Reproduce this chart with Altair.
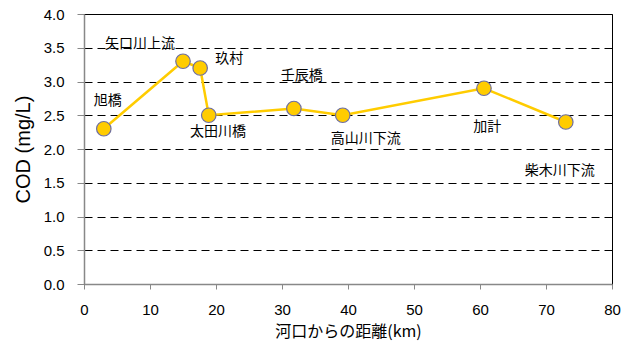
import altair as alt
import pandas as pd

# data
sites = ["旭橋", "矢口川上流", "玖村", "太田川橋", "壬辰橋", "高山川下流", "加計", "柴木川下流"]
distance_km = [3.0, 15.0, 17.6, 18.9, 31.8, 39.2, 60.6, 73.0]
cod = [2.3, 3.3, 3.2, 2.5, 2.6, 2.5, 2.9, 2.4]
# label anchor positions (data coordinates)
label_x = [3.6, 8.5, 22.0, 20.3, 33.0, 42.7, 61.1, 72.1]
label_y = [2.71, 3.56, 3.33, 2.25, 3.08, 2.15, 2.33, 1.67]
x_ticks = [0, 10, 20, 30, 40, 50, 60, 70, 80]
y_ticks = [0.0, 0.5, 1.0, 1.5, 2.0, 2.5, 3.0, 3.5, 4.0]

df = pd.DataFrame({"site": sites, "km": distance_km, "cod": cod})
lab = pd.DataFrame({"site": sites, "lx": label_x, "ly": label_y})

xs = alt.Scale(domain=[0, 80], nice=False, zero=False)
ys = alt.Scale(domain=[0, 4], nice=False, zero=False)

xax = alt.Axis(values=x_ticks, title="河口からの距離(km)", grid=False,
               labelFont="Liberation Sans", labelFontSize=15, labelColor="#000",
               titleFont="Noto Sans CJK JP", titleFontSize=16, titleFontWeight="normal",
               titleColor="#000", titlePadding=6, labelPadding=13, labelOverlap=False,
               labelFlush=False,
               domainColor="#888", domainWidth=1.5, tickColor="#888", tickSize=5)
yax = alt.Axis(values=y_ticks, format=".1f", title="COD (mg/L)",
               grid=True, gridColor="#000", gridDash=[8, 5], gridWidth=1,
               labelFont="Liberation Sans", labelFontSize=15, labelColor="#000",
               titleFont="Liberation Sans", titleFontSize=20, titleFontWeight="normal",
               titleColor="#000", titlePadding=10, labelPadding=13, labelOverlap=False,
               labelFlush=False,
               domainColor="#888", domainWidth=1.5, tickColor="#888", tickSize=7)

X = lambda f: alt.X(f, scale=xs, axis=xax)
Y = lambda f: alt.Y(f, scale=ys, axis=yax)

base = alt.Chart(df)
line = base.mark_line(color="#FFCC00", strokeWidth=2.5).encode(
    x=X("km:Q"), y=Y("cod:Q"),
)
pts = base.mark_point(filled=True, fill="#FFCC00", stroke="#6E6EA0", strokeWidth=1.2,
                      size=210, opacity=1).encode(
    x=X("km:Q"), y=Y("cod:Q"),
)
txt = alt.Chart(lab).mark_text(font="Noto Sans CJK JP", fontSize=14, color="#000",
                               align="center", baseline="middle").encode(
    x=X("lx:Q"), y=Y("ly:Q"),
    text="site:N",
)

chart = (line + pts + txt).properties(
    width=528, height=270,
    autosize=alt.AutoSizeParams(type="none"),
    padding={"left": 84, "top": 14, "right": 24, "bottom": 59},
    background="white",
).configure_view(stroke="#000", strokeWidth=1)

chart.save("out.html", embed_options={"renderer": "svg", "actions": False})
